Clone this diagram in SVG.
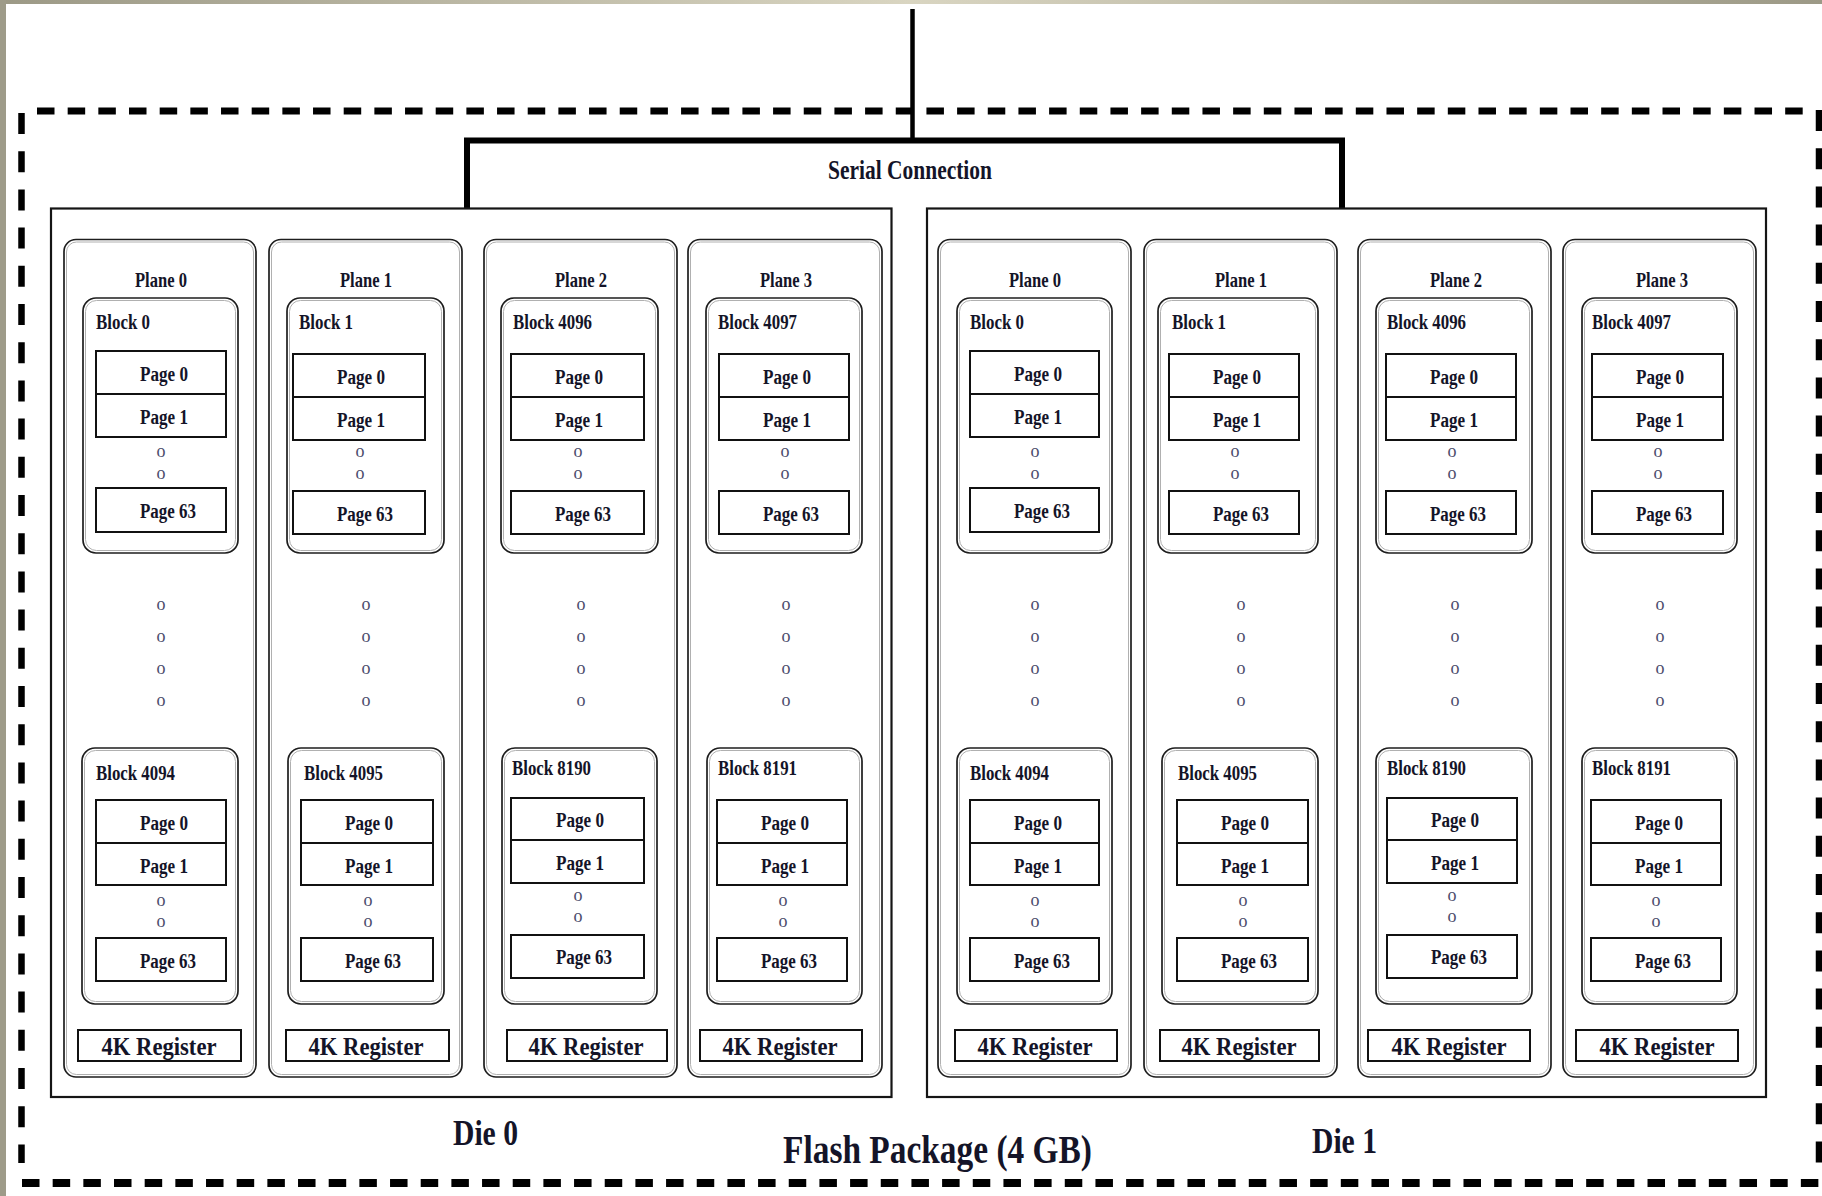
<svg xmlns="http://www.w3.org/2000/svg" width="1822" height="1196" viewBox="0 0 1822 1196">
<defs>
<linearGradient id="topbar" x1="0" y1="0" x2="1" y2="0">
<stop offset="0" stop-color="#9c9986"/>
<stop offset="0.5" stop-color="#d9d5c1"/>
<stop offset="1" stop-color="#9c9986"/>
</linearGradient>
</defs>
<style>
.t{font-family:"Liberation Serif","Times New Roman",serif;font-weight:bold;fill:#141428}
.ft{font-size:22px}
.fb{font-size:20px}
.fp{font-size:20px}
.fr{font-size:25px}
.o{font-family:"Liberation Serif","Times New Roman",serif;font-size:18px;fill:#4c4c6c;text-anchor:middle}
.pl{fill:none;stroke:#1e1e1e;stroke-width:1.7}
.pl2{fill:none;stroke:#b0b0b0;stroke-width:1}
.pg{fill:none;stroke:#111;stroke-width:2}
.rg{fill:none;stroke:#111;stroke-width:2}
.die{fill:none;stroke:#151515;stroke-width:2.2}
.dash{stroke:#000;fill:none}
.conn{stroke:#000;fill:none}
</style>
<rect x="0" y="0" width="1822" height="1196" fill="#ffffff"/>
<rect x="0" y="0" width="1822" height="4" fill="url(#topbar)"/>
<rect x="0" y="0" width="6" height="1196" fill="#9e9b89"/>

<g id="flash-package">
<line class="dash" x1="37" y1="111" x2="1804" y2="111" stroke-width="7" stroke-dasharray="17.5 13.17"/>
<line class="dash" x1="22" y1="1183" x2="1822" y2="1183" stroke-width="8" stroke-dasharray="17.5 13.17"/>
<line class="dash" x1="21.5" y1="113" x2="21.5" y2="1163" stroke-width="6.5" stroke-dasharray="21 17.2"/>
<line class="dash" x1="1819" y1="110" x2="1819" y2="1163" stroke-width="6.5" stroke-dasharray="21 17.2"/>
<text class="t" x="783" y="1163" font-size="40" textLength="309" lengthAdjust="spacingAndGlyphs">Flash Package (4 GB)</text>
</g>

<g id="connectors">
<line class="conn" x1="912.5" y1="9" x2="912.5" y2="141" stroke-width="4.5"/>
<path class="conn" d="M467,209 V140.5 H1342 V209" stroke-width="6"/>
<text class="t" x="828" y="179" font-size="27" textLength="164" lengthAdjust="spacingAndGlyphs">Serial Connection</text>
</g>

<g id="die0">
<rect class="die" x="51" y="208.5" width="840.5" height="888.5"/>
<text class="t" x="453" y="1145" font-size="35" textLength="65" lengthAdjust="spacingAndGlyphs">Die 0</text>

<g id="d0-plane0">
<rect class="pl" x="64" y="239.5" width="192" height="837.5" rx="12"/>
<rect class="pl2" x="66.5" y="242" width="187" height="832.5" rx="10"/>
<text class="t ft" x="161" y="287" text-anchor="middle" textLength="52" lengthAdjust="spacingAndGlyphs">Plane 0</text>
<g id="d0-block0">
<rect class="pl" x="83" y="298" width="155" height="255" rx="13"/>
<rect class="pl2" x="85.5" y="300.5" width="150" height="250" rx="11"/>
<text class="t fb" x="96" y="329" textLength="54" lengthAdjust="spacingAndGlyphs">Block 0</text>
<g id="d0-b0-page0"><rect class="pg" x="96" y="351" width="130" height="43"/><text class="t fp" x="140" y="381" textLength="48" lengthAdjust="spacingAndGlyphs">Page 0</text></g>
<g id="d0-b0-page1"><rect class="pg" x="96" y="394" width="130" height="43"/><text class="t fp" x="140" y="424" textLength="48" lengthAdjust="spacingAndGlyphs">Page 1</text></g>
<text class="o" x="161" y="457">o</text><text class="o" x="161" y="479">o</text>
<g id="d0-b0-page63"><rect class="pg" x="96" y="488" width="130" height="44"/><text class="t fp" x="140" y="518" textLength="56" lengthAdjust="spacingAndGlyphs">Page 63</text></g>
</g>
<text class="o" x="161" y="610">o</text><text class="o" x="161" y="642">o</text><text class="o" x="161" y="674">o</text><text class="o" x="161" y="706">o</text>
<g id="d0-block4094">
<rect class="pl" x="82" y="748" width="156" height="256" rx="13"/>
<rect class="pl2" x="84.5" y="750.5" width="151" height="251" rx="11"/>
<text class="t fb" x="96" y="780" textLength="79" lengthAdjust="spacingAndGlyphs">Block 4094</text>
<g id="d0-b4094-page0"><rect class="pg" x="96" y="800" width="130" height="43"/><text class="t fp" x="140" y="830" textLength="48" lengthAdjust="spacingAndGlyphs">Page 0</text></g>
<g id="d0-b4094-page1"><rect class="pg" x="96" y="843" width="130" height="42"/><text class="t fp" x="140" y="873" textLength="48" lengthAdjust="spacingAndGlyphs">Page 1</text></g>
<text class="o" x="161" y="906">o</text><text class="o" x="161" y="927">o</text>
<g id="d0-b4094-page63"><rect class="pg" x="96" y="938" width="130" height="43"/><text class="t fp" x="140" y="968" textLength="56" lengthAdjust="spacingAndGlyphs">Page 63</text></g>
</g>
<g id="d0-reg0"><rect class="rg" x="78" y="1030" width="163" height="31"/><text class="t fr" x="159" y="1055" text-anchor="middle" textLength="115" lengthAdjust="spacingAndGlyphs">4K Register</text></g>
</g>

<g id="d0-plane1">
<rect class="pl" x="269" y="239.5" width="193" height="837.5" rx="12"/>
<rect class="pl2" x="271.5" y="242" width="188" height="832.5" rx="10"/>
<text class="t ft" x="366" y="287" text-anchor="middle" textLength="52" lengthAdjust="spacingAndGlyphs">Plane 1</text>
<g id="d0-block1">
<rect class="pl" x="287" y="298" width="157" height="255" rx="13"/>
<rect class="pl2" x="289.5" y="300.5" width="152" height="250" rx="11"/>
<text class="t fb" x="299" y="329" textLength="54" lengthAdjust="spacingAndGlyphs">Block 1</text>
<g id="d0-b1-page0"><rect class="pg" x="293" y="354" width="132" height="43"/><text class="t fp" x="337" y="384" textLength="48" lengthAdjust="spacingAndGlyphs">Page 0</text></g>
<g id="d0-b1-page1"><rect class="pg" x="293" y="397" width="132" height="43"/><text class="t fp" x="337" y="427" textLength="48" lengthAdjust="spacingAndGlyphs">Page 1</text></g>
<text class="o" x="360" y="457">o</text><text class="o" x="360" y="479">o</text>
<g id="d0-b1-page63"><rect class="pg" x="293" y="491" width="132" height="43"/><text class="t fp" x="337" y="521" textLength="56" lengthAdjust="spacingAndGlyphs">Page 63</text></g>
</g>
<text class="o" x="366" y="610">o</text><text class="o" x="366" y="642">o</text><text class="o" x="366" y="674">o</text><text class="o" x="366" y="706">o</text>
<g id="d0-block4095">
<rect class="pl" x="288" y="748" width="156" height="256" rx="13"/>
<rect class="pl2" x="290.5" y="750.5" width="151" height="251" rx="11"/>
<text class="t fb" x="304" y="780" textLength="79" lengthAdjust="spacingAndGlyphs">Block 4095</text>
<g id="d0-b4095-page0"><rect class="pg" x="301" y="800" width="132" height="43"/><text class="t fp" x="345" y="830" textLength="48" lengthAdjust="spacingAndGlyphs">Page 0</text></g>
<g id="d0-b4095-page1"><rect class="pg" x="301" y="843" width="132" height="42"/><text class="t fp" x="345" y="873" textLength="48" lengthAdjust="spacingAndGlyphs">Page 1</text></g>
<text class="o" x="368" y="906">o</text><text class="o" x="368" y="927">o</text>
<g id="d0-b4095-page63"><rect class="pg" x="301" y="938" width="132" height="43"/><text class="t fp" x="345" y="968" textLength="56" lengthAdjust="spacingAndGlyphs">Page 63</text></g>
</g>
<g id="d0-reg1"><rect class="rg" x="286" y="1030" width="163" height="31"/><text class="t fr" x="366" y="1055" text-anchor="middle" textLength="115" lengthAdjust="spacingAndGlyphs">4K Register</text></g>
</g>

<g id="d0-plane2">
<rect class="pl" x="484" y="239.5" width="193" height="837.5" rx="12"/>
<rect class="pl2" x="486.5" y="242" width="188" height="832.5" rx="10"/>
<text class="t ft" x="581" y="287" text-anchor="middle" textLength="52" lengthAdjust="spacingAndGlyphs">Plane 2</text>
<g id="d0-block4096">
<rect class="pl" x="501" y="298" width="157" height="255" rx="13"/>
<rect class="pl2" x="503.5" y="300.5" width="152" height="250" rx="11"/>
<text class="t fb" x="513" y="329" textLength="79" lengthAdjust="spacingAndGlyphs">Block 4096</text>
<g id="d0-b4096-page0"><rect class="pg" x="511" y="354" width="133" height="43"/><text class="t fp" x="555" y="384" textLength="48" lengthAdjust="spacingAndGlyphs">Page 0</text></g>
<g id="d0-b4096-page1"><rect class="pg" x="511" y="397" width="133" height="43"/><text class="t fp" x="555" y="427" textLength="48" lengthAdjust="spacingAndGlyphs">Page 1</text></g>
<text class="o" x="578" y="457">o</text><text class="o" x="578" y="479">o</text>
<g id="d0-b4096-page63"><rect class="pg" x="511" y="491" width="133" height="43"/><text class="t fp" x="555" y="521" textLength="56" lengthAdjust="spacingAndGlyphs">Page 63</text></g>
</g>
<text class="o" x="581" y="610">o</text><text class="o" x="581" y="642">o</text><text class="o" x="581" y="674">o</text><text class="o" x="581" y="706">o</text>
<g id="d0-block8190">
<rect class="pl" x="502" y="748" width="155" height="256" rx="13"/>
<rect class="pl2" x="504.5" y="750.5" width="150" height="251" rx="11"/>
<text class="t fb" x="512" y="775" textLength="79" lengthAdjust="spacingAndGlyphs">Block 8190</text>
<g id="d0-b8190-page0"><rect class="pg" x="511" y="798" width="133" height="42"/><text class="t fp" x="556" y="827" textLength="48" lengthAdjust="spacingAndGlyphs">Page 0</text></g>
<g id="d0-b8190-page1"><rect class="pg" x="511" y="840" width="133" height="43"/><text class="t fp" x="556" y="870" textLength="48" lengthAdjust="spacingAndGlyphs">Page 1</text></g>
<text class="o" x="578" y="901">o</text><text class="o" x="578" y="922">o</text>
<g id="d0-b8190-page63"><rect class="pg" x="511" y="935" width="133" height="43"/><text class="t fp" x="556" y="964" textLength="56" lengthAdjust="spacingAndGlyphs">Page 63</text></g>
</g>
<g id="d0-reg2"><rect class="rg" x="507" y="1030" width="160" height="31"/><text class="t fr" x="586" y="1055" text-anchor="middle" textLength="115" lengthAdjust="spacingAndGlyphs">4K Register</text></g>
</g>

<g id="d0-plane3">
<rect class="pl" x="688" y="239.5" width="194" height="837.5" rx="12"/>
<rect class="pl2" x="690.5" y="242" width="189" height="832.5" rx="10"/>
<text class="t ft" x="786" y="287" text-anchor="middle" textLength="52" lengthAdjust="spacingAndGlyphs">Plane 3</text>
<g id="d0-block4097">
<rect class="pl" x="706" y="298" width="156" height="255" rx="13"/>
<rect class="pl2" x="708.5" y="300.5" width="151" height="250" rx="11"/>
<text class="t fb" x="718" y="329" textLength="79" lengthAdjust="spacingAndGlyphs">Block 4097</text>
<g id="d0-b4097-page0"><rect class="pg" x="719" y="354" width="130" height="43"/><text class="t fp" x="763" y="384" textLength="48" lengthAdjust="spacingAndGlyphs">Page 0</text></g>
<g id="d0-b4097-page1"><rect class="pg" x="719" y="397" width="130" height="43"/><text class="t fp" x="763" y="427" textLength="48" lengthAdjust="spacingAndGlyphs">Page 1</text></g>
<text class="o" x="785" y="457">o</text><text class="o" x="785" y="479">o</text>
<g id="d0-b4097-page63"><rect class="pg" x="719" y="491" width="130" height="43"/><text class="t fp" x="763" y="521" textLength="56" lengthAdjust="spacingAndGlyphs">Page 63</text></g>
</g>
<text class="o" x="786" y="610">o</text><text class="o" x="786" y="642">o</text><text class="o" x="786" y="674">o</text><text class="o" x="786" y="706">o</text>
<g id="d0-block8191">
<rect class="pl" x="707" y="748" width="155" height="256" rx="13"/>
<rect class="pl2" x="709.5" y="750.5" width="150" height="251" rx="11"/>
<text class="t fb" x="718" y="775" textLength="79" lengthAdjust="spacingAndGlyphs">Block 8191</text>
<g id="d0-b8191-page0"><rect class="pg" x="717" y="800" width="130" height="43"/><text class="t fp" x="761" y="830" textLength="48" lengthAdjust="spacingAndGlyphs">Page 0</text></g>
<g id="d0-b8191-page1"><rect class="pg" x="717" y="843" width="130" height="42"/><text class="t fp" x="761" y="873" textLength="48" lengthAdjust="spacingAndGlyphs">Page 1</text></g>
<text class="o" x="783" y="906">o</text><text class="o" x="783" y="927">o</text>
<g id="d0-b8191-page63"><rect class="pg" x="717" y="938" width="130" height="43"/><text class="t fp" x="761" y="968" textLength="56" lengthAdjust="spacingAndGlyphs">Page 63</text></g>
</g>
<g id="d0-reg3"><rect class="rg" x="700" y="1030" width="162" height="31"/><text class="t fr" x="780" y="1055" text-anchor="middle" textLength="115" lengthAdjust="spacingAndGlyphs">4K Register</text></g>
</g>
</g>

<g id="die1">
<rect class="die" x="927" y="208.5" width="839" height="888.5"/>
<text class="t" x="1312" y="1153" font-size="35" textLength="65" lengthAdjust="spacingAndGlyphs">Die 1</text>

<g id="d1-plane0">
<rect class="pl" x="938" y="239.5" width="193" height="837.5" rx="12"/>
<rect class="pl2" x="940.5" y="242" width="188" height="832.5" rx="10"/>
<text class="t ft" x="1035" y="287" text-anchor="middle" textLength="52" lengthAdjust="spacingAndGlyphs">Plane 0</text>
<g id="d1-block0">
<rect class="pl" x="957" y="298" width="155" height="255" rx="13"/>
<rect class="pl2" x="959.5" y="300.5" width="150" height="250" rx="11"/>
<text class="t fb" x="970" y="329" textLength="54" lengthAdjust="spacingAndGlyphs">Block 0</text>
<g id="d1-b0-page0"><rect class="pg" x="970" y="351" width="129" height="43"/><text class="t fp" x="1014" y="381" textLength="48" lengthAdjust="spacingAndGlyphs">Page 0</text></g>
<g id="d1-b0-page1"><rect class="pg" x="970" y="394" width="129" height="43"/><text class="t fp" x="1014" y="424" textLength="48" lengthAdjust="spacingAndGlyphs">Page 1</text></g>
<text class="o" x="1035" y="457">o</text><text class="o" x="1035" y="479">o</text>
<g id="d1-b0-page63"><rect class="pg" x="970" y="488" width="129" height="44"/><text class="t fp" x="1014" y="518" textLength="56" lengthAdjust="spacingAndGlyphs">Page 63</text></g>
</g>
<text class="o" x="1035" y="610">o</text><text class="o" x="1035" y="642">o</text><text class="o" x="1035" y="674">o</text><text class="o" x="1035" y="706">o</text>
<g id="d1-block4094">
<rect class="pl" x="957" y="748" width="155" height="256" rx="13"/>
<rect class="pl2" x="959.5" y="750.5" width="150" height="251" rx="11"/>
<text class="t fb" x="970" y="780" textLength="79" lengthAdjust="spacingAndGlyphs">Block 4094</text>
<g id="d1-b4094-page0"><rect class="pg" x="970" y="800" width="129" height="43"/><text class="t fp" x="1014" y="830" textLength="48" lengthAdjust="spacingAndGlyphs">Page 0</text></g>
<g id="d1-b4094-page1"><rect class="pg" x="970" y="843" width="129" height="42"/><text class="t fp" x="1014" y="873" textLength="48" lengthAdjust="spacingAndGlyphs">Page 1</text></g>
<text class="o" x="1035" y="906">o</text><text class="o" x="1035" y="927">o</text>
<g id="d1-b4094-page63"><rect class="pg" x="970" y="938" width="129" height="43"/><text class="t fp" x="1014" y="968" textLength="56" lengthAdjust="spacingAndGlyphs">Page 63</text></g>
</g>
<g id="d1-reg0"><rect class="rg" x="955" y="1030" width="162" height="31"/><text class="t fr" x="1035" y="1055" text-anchor="middle" textLength="115" lengthAdjust="spacingAndGlyphs">4K Register</text></g>
</g>

<g id="d1-plane1">
<rect class="pl" x="1144" y="239.5" width="193" height="837.5" rx="12"/>
<rect class="pl2" x="1146.5" y="242" width="188" height="832.5" rx="10"/>
<text class="t ft" x="1241" y="287" text-anchor="middle" textLength="52" lengthAdjust="spacingAndGlyphs">Plane 1</text>
<g id="d1-block1">
<rect class="pl" x="1158" y="298" width="160" height="255" rx="13"/>
<rect class="pl2" x="1160.5" y="300.5" width="155" height="250" rx="11"/>
<text class="t fb" x="1172" y="329" textLength="54" lengthAdjust="spacingAndGlyphs">Block 1</text>
<g id="d1-b1-page0"><rect class="pg" x="1169" y="354" width="130" height="43"/><text class="t fp" x="1213" y="384" textLength="48" lengthAdjust="spacingAndGlyphs">Page 0</text></g>
<g id="d1-b1-page1"><rect class="pg" x="1169" y="397" width="130" height="43"/><text class="t fp" x="1213" y="427" textLength="48" lengthAdjust="spacingAndGlyphs">Page 1</text></g>
<text class="o" x="1235" y="457">o</text><text class="o" x="1235" y="479">o</text>
<g id="d1-b1-page63"><rect class="pg" x="1169" y="491" width="130" height="43"/><text class="t fp" x="1213" y="521" textLength="56" lengthAdjust="spacingAndGlyphs">Page 63</text></g>
</g>
<text class="o" x="1241" y="610">o</text><text class="o" x="1241" y="642">o</text><text class="o" x="1241" y="674">o</text><text class="o" x="1241" y="706">o</text>
<g id="d1-block4095">
<rect class="pl" x="1162" y="748" width="156" height="256" rx="13"/>
<rect class="pl2" x="1164.5" y="750.5" width="151" height="251" rx="11"/>
<text class="t fb" x="1178" y="780" textLength="79" lengthAdjust="spacingAndGlyphs">Block 4095</text>
<g id="d1-b4095-page0"><rect class="pg" x="1177" y="800" width="131" height="43"/><text class="t fp" x="1221" y="830" textLength="48" lengthAdjust="spacingAndGlyphs">Page 0</text></g>
<g id="d1-b4095-page1"><rect class="pg" x="1177" y="843" width="131" height="42"/><text class="t fp" x="1221" y="873" textLength="48" lengthAdjust="spacingAndGlyphs">Page 1</text></g>
<text class="o" x="1243" y="906">o</text><text class="o" x="1243" y="927">o</text>
<g id="d1-b4095-page63"><rect class="pg" x="1177" y="938" width="131" height="43"/><text class="t fp" x="1221" y="968" textLength="56" lengthAdjust="spacingAndGlyphs">Page 63</text></g>
</g>
<g id="d1-reg1"><rect class="rg" x="1160" y="1030" width="159" height="31"/><text class="t fr" x="1239" y="1055" text-anchor="middle" textLength="115" lengthAdjust="spacingAndGlyphs">4K Register</text></g>
</g>

<g id="d1-plane2">
<rect class="pl" x="1358" y="239.5" width="193" height="837.5" rx="12"/>
<rect class="pl2" x="1360.5" y="242" width="188" height="832.5" rx="10"/>
<text class="t ft" x="1456" y="287" text-anchor="middle" textLength="52" lengthAdjust="spacingAndGlyphs">Plane 2</text>
<g id="d1-block4096">
<rect class="pl" x="1376" y="298" width="156" height="255" rx="13"/>
<rect class="pl2" x="1378.5" y="300.5" width="151" height="250" rx="11"/>
<text class="t fb" x="1387" y="329" textLength="79" lengthAdjust="spacingAndGlyphs">Block 4096</text>
<g id="d1-b4096-page0"><rect class="pg" x="1386" y="354" width="130" height="43"/><text class="t fp" x="1430" y="384" textLength="48" lengthAdjust="spacingAndGlyphs">Page 0</text></g>
<g id="d1-b4096-page1"><rect class="pg" x="1386" y="397" width="130" height="43"/><text class="t fp" x="1430" y="427" textLength="48" lengthAdjust="spacingAndGlyphs">Page 1</text></g>
<text class="o" x="1452" y="457">o</text><text class="o" x="1452" y="479">o</text>
<g id="d1-b4096-page63"><rect class="pg" x="1386" y="491" width="130" height="43"/><text class="t fp" x="1430" y="521" textLength="56" lengthAdjust="spacingAndGlyphs">Page 63</text></g>
</g>
<text class="o" x="1455" y="610">o</text><text class="o" x="1455" y="642">o</text><text class="o" x="1455" y="674">o</text><text class="o" x="1455" y="706">o</text>
<g id="d1-block8190">
<rect class="pl" x="1376" y="748" width="156" height="256" rx="13"/>
<rect class="pl2" x="1378.5" y="750.5" width="151" height="251" rx="11"/>
<text class="t fb" x="1387" y="775" textLength="79" lengthAdjust="spacingAndGlyphs">Block 8190</text>
<g id="d1-b8190-page0"><rect class="pg" x="1387" y="798" width="130" height="42"/><text class="t fp" x="1431" y="827" textLength="48" lengthAdjust="spacingAndGlyphs">Page 0</text></g>
<g id="d1-b8190-page1"><rect class="pg" x="1387" y="840" width="130" height="43"/><text class="t fp" x="1431" y="870" textLength="48" lengthAdjust="spacingAndGlyphs">Page 1</text></g>
<text class="o" x="1452" y="901">o</text><text class="o" x="1452" y="922">o</text>
<g id="d1-b8190-page63"><rect class="pg" x="1387" y="935" width="130" height="43"/><text class="t fp" x="1431" y="964" textLength="56" lengthAdjust="spacingAndGlyphs">Page 63</text></g>
</g>
<g id="d1-reg2"><rect class="rg" x="1368" y="1030" width="162" height="31"/><text class="t fr" x="1449" y="1055" text-anchor="middle" textLength="115" lengthAdjust="spacingAndGlyphs">4K Register</text></g>
</g>

<g id="d1-plane3">
<rect class="pl" x="1563" y="239.5" width="193" height="837.5" rx="12"/>
<rect class="pl2" x="1565.5" y="242" width="188" height="832.5" rx="10"/>
<text class="t ft" x="1662" y="287" text-anchor="middle" textLength="52" lengthAdjust="spacingAndGlyphs">Plane 3</text>
<g id="d1-block4097">
<rect class="pl" x="1582" y="298" width="155" height="255" rx="13"/>
<rect class="pl2" x="1584.5" y="300.5" width="150" height="250" rx="11"/>
<text class="t fb" x="1592" y="329" textLength="79" lengthAdjust="spacingAndGlyphs">Block 4097</text>
<g id="d1-b4097-page0"><rect class="pg" x="1592" y="354" width="131" height="43"/><text class="t fp" x="1636" y="384" textLength="48" lengthAdjust="spacingAndGlyphs">Page 0</text></g>
<g id="d1-b4097-page1"><rect class="pg" x="1592" y="397" width="131" height="43"/><text class="t fp" x="1636" y="427" textLength="48" lengthAdjust="spacingAndGlyphs">Page 1</text></g>
<text class="o" x="1658" y="457">o</text><text class="o" x="1658" y="479">o</text>
<g id="d1-b4097-page63"><rect class="pg" x="1592" y="491" width="131" height="43"/><text class="t fp" x="1636" y="521" textLength="56" lengthAdjust="spacingAndGlyphs">Page 63</text></g>
</g>
<text class="o" x="1660" y="610">o</text><text class="o" x="1660" y="642">o</text><text class="o" x="1660" y="674">o</text><text class="o" x="1660" y="706">o</text>
<g id="d1-block8191">
<rect class="pl" x="1582" y="748" width="155" height="256" rx="13"/>
<rect class="pl2" x="1584.5" y="750.5" width="150" height="251" rx="11"/>
<text class="t fb" x="1592" y="775" textLength="79" lengthAdjust="spacingAndGlyphs">Block 8191</text>
<g id="d1-b8191-page0"><rect class="pg" x="1591" y="800" width="130" height="43"/><text class="t fp" x="1635" y="830" textLength="48" lengthAdjust="spacingAndGlyphs">Page 0</text></g>
<g id="d1-b8191-page1"><rect class="pg" x="1591" y="843" width="130" height="42"/><text class="t fp" x="1635" y="873" textLength="48" lengthAdjust="spacingAndGlyphs">Page 1</text></g>
<text class="o" x="1656" y="906">o</text><text class="o" x="1656" y="927">o</text>
<g id="d1-b8191-page63"><rect class="pg" x="1591" y="938" width="130" height="43"/><text class="t fp" x="1635" y="968" textLength="56" lengthAdjust="spacingAndGlyphs">Page 63</text></g>
</g>
<g id="d1-reg3"><rect class="rg" x="1576" y="1030" width="162" height="31"/><text class="t fr" x="1657" y="1055" text-anchor="middle" textLength="115" lengthAdjust="spacingAndGlyphs">4K Register</text></g>
</g>
</g>
</svg>
